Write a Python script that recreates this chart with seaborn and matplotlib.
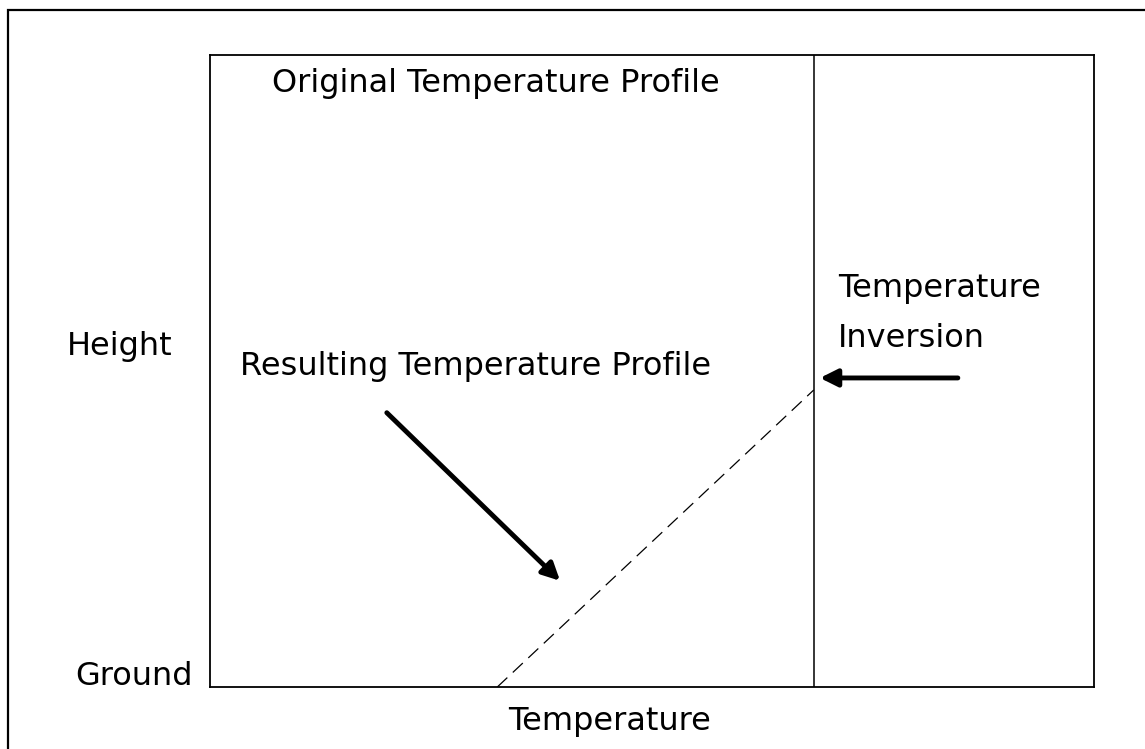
import numpy as np
import pandas as pd
import matplotlib
matplotlib.use("Agg")
import matplotlib.pyplot as plt
import seaborn as sns
from matplotlib.patches import Rectangle

# Dữ liệu hồ sơ nhiệt độ (đơn vị tương đối 0-100)
orig_temp = [68.3, 68.3]
orig_height = [0, 100]
result_temp = [32.5, 68.3]
result_height = [0, 47.0]

sns.set_style("white")
plt.rcParams['font.family'] = ['DejaVu Sans']
plt.rcParams['text.color'] = 'black'

W, H, DPI = 1145, 749, 100
fig = plt.figure(figsize=(W / DPI, H / DPI), dpi=DPI)

# vị trí khung trục theo pixel
left, right, top, bottom = 210, 1094, 55, 687
ax = fig.add_axes([left / W, 1 - bottom / H, (right - left) / W, (bottom - top) / H])

df_orig = pd.DataFrame({"temp": orig_temp, "height": orig_height})
df_res = pd.DataFrame({"temp": result_temp, "height": result_height})

sns.lineplot(data=df_orig, x="temp", y="height", ax=ax, color="black",
             linewidth=1.1, sort=False, estimator=None)
sns.lineplot(data=df_res, x="temp", y="height", ax=ax, color="black",
             linewidth=0.9, sort=False, estimator=None, dashes=False)
ax.lines[-1].set_dashes([11, 6])

ax.set_xlim(0, 100)
ax.set_ylim(0, 100)
ax.set_xticks([])
ax.set_yticks([])
ax.set_xlabel("")
ax.set_ylabel("")
for sp in ax.spines.values():
    sp.set_visible(True)
    sp.set_color("black")
    sp.set_linewidth(1.3)

fs = 23
kw = dict(fontsize=fs, va="baseline", color="black")
ax.text(7.0, 94.1, "Original Temperature Profile", **kw)
ax.text(3.4, 49.4, "Resulting Temperature Profile", **kw)
ax.text(71.0, 61.7, "Temperature", **kw)
ax.text(71.0, 53.8, "Inversion", **kw)
ax.text(-4.2, 52.5, "Height", ha="right", clip_on=False, **kw)
ax.text(-1.9, 0.3, "Ground", ha="right", clip_on=False, **kw)
ax.text(45.2, -6.8, "Temperature", ha="center", clip_on=False, **kw)

arrow = dict(arrowstyle="-|>", lw=3.5, color="black", mutation_scale=26,
             shrinkA=0, shrinkB=0)
ax.annotate("", xy=(69.0, 48.9), xytext=(84.6, 48.9), arrowprops=arrow)
ax.annotate("", xy=(39.6, 16.8), xytext=(20.0, 43.4), arrowprops=arrow)

# khung ngoài
fig.patches.append(Rectangle((8 / W, -0.1), 1.2, 1 - 10 / H + 0.1,
                             transform=fig.transFigure, fill=False,
                             edgecolor="black", linewidth=1.6))

plt.savefig("out.png", dpi=DPI)
